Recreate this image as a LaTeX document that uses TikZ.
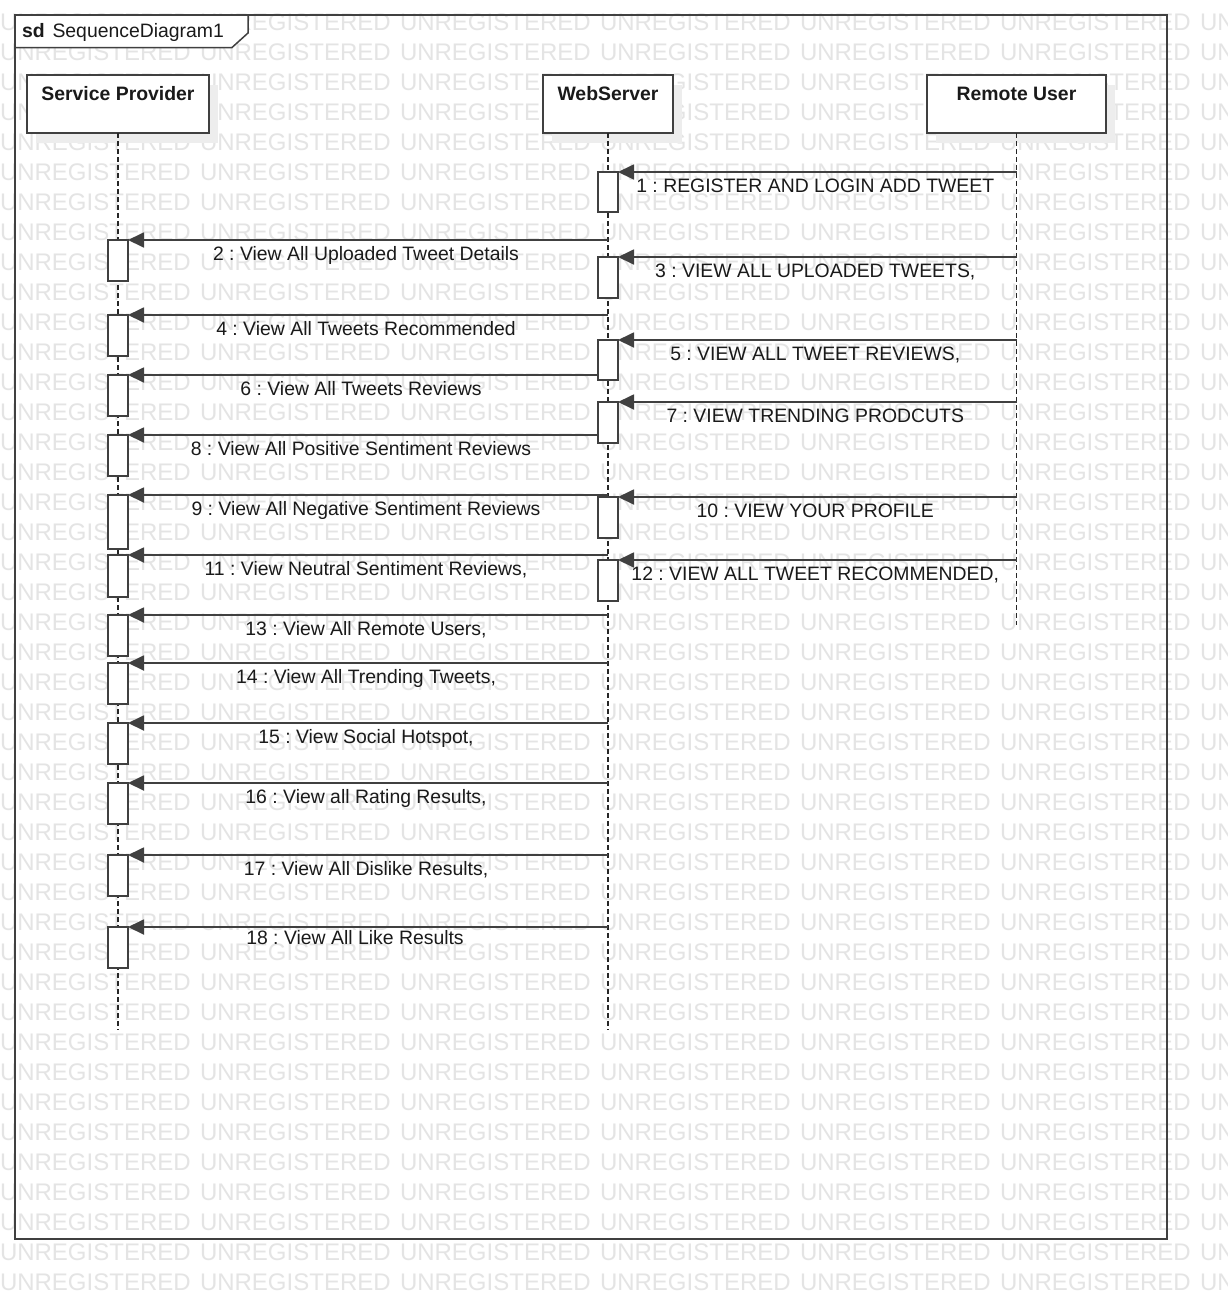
\documentclass[tikz,border=0pt]{standalone}
\usepackage{fontspec}
\setmainfont{Liberation Sans}
\usetikzlibrary{arrows.meta,shadows,calc}
\definecolor{ln}{RGB}{64,64,64}
\definecolor{wm}{RGB}{228,228,228}
\definecolor{txt}{RGB}{26,26,26}
\frenchspacing
\begin{document}
\begin{tikzpicture}[x=1pt,y=-1pt,
  every node/.style={inner sep=0pt, outer sep=0pt},
  wmark/.style={text=wm, font=\fontsize{24}{24}\selectfont, anchor=base west},
  headbox/.style={draw=ln, line width=1.8pt, fill=white, minimum height=58pt,
    drop shadow={shadow xshift=9pt, shadow yshift=-10pt, fill=black!7, opacity=1, draw=none}},
  headtxt/.style={text=txt, font=\fontsize{19.4}{20}\selectfont\bfseries, anchor=base},
  lifeline/.style={draw=black!85, line width=1.3pt, dash pattern=on 4.5pt off 3.5pt},
  act/.style={draw=ln, line width=1.8pt, fill=white, minimum width=20pt, anchor=north},
  msg/.style={draw=ln, line width=1.8pt, -{Triangle[length=16pt,width=15pt]}},
  mlbl/.style={text=txt, font=\fontsize{19.4}{20}\selectfont, anchor=base, yshift=-20pt, xshift=-2pt},
]
\useasboundingbox (0,0) rectangle (1227,1299);
\fill[white] (0,0) rectangle (1227,1299);
% watermark
\begin{scope}
\clip (0,0) rectangle (1227,1299);
\foreach \r in {0,...,42}{
  \foreach \c in {0,...,6}{
    \node[wmark] (wm-\r-\c) at (\c*200, 30+\r*30) {UNREGISTERED};
  }
}
\end{scope}
% frame
\node[draw=ln, line width=2.2pt, minimum width=1152pt, minimum height=1224pt, anchor=north west] (frame) at (15,15) {};
\draw[draw=ln, line width=1.5pt, fill=white] (frame.north west) -- (248,15) -- (248,33) -- (232,47.5) -- (15,47.5) -- cycle;
\node[text=txt, font=\fontsize{19.4}{20}\selectfont\bfseries, anchor=base west] (sdk) at (22,37) {sd};
\node[text=txt, font=\fontsize{19.4}{20}\selectfont, anchor=base west] (sdn) at (52.5,37) {SequenceDiagram1};
% lifeline heads
\node[headbox, minimum width=182pt] (sp) at (118,104) {};
\node[headtxt] (spt) at ([yshift=-25pt]sp.north) {Service Provider};
\node[headbox, minimum width=130pt] (ws) at (608,104) {};
\node[headtxt] (wst) at ([yshift=-25pt]ws.north) {WebServer};
\node[headbox, minimum width=179pt] (ru) at (1016.5,104) {};
\node[headtxt] (rut) at ([yshift=-25pt]ru.north) {Remote User};
% lifelines
\coordinate (spe) at (118,1030);
\coordinate (wse) at (608,1030);
\coordinate (rue) at (1016.5,625);
\draw[lifeline] (sp.south) -- (spe);
\draw[lifeline] (ws.south) -- (wse);
\draw[lifeline] (ru.south) -- (rue);
% activations WebServer
\node[act, minimum height=40pt] (a1) at (608,172) {};
\node[act, minimum height=41pt] (a3) at (608,257) {};
\node[act, minimum height=40pt] (a5) at (608,340) {};
\node[act, minimum height=41pt] (a7) at (608,402) {};
\node[act, minimum height=41pt] (a10) at (608,497) {};
\node[act, minimum height=41pt] (a12) at (608,560) {};
% activations Service Provider
\node[act, minimum height=41pt] (a2) at (118,240) {};
\node[act, minimum height=41pt] (a4) at (118,315) {};
\node[act, minimum height=41pt] (a6) at (118,375) {};
\node[act, minimum height=41pt] (a8) at (118,435) {};
\node[act, minimum height=54pt] (a9) at (118,495) {};
\node[act, minimum height=42pt] (a11) at (118,555) {};
\node[act, minimum height=41pt] (a13) at (118,615) {};
\node[act, minimum height=41pt] (a14) at (118,663) {};
\node[act, minimum height=41pt] (a15) at (118,723) {};
\node[act, minimum height=41pt] (a16) at (118,783) {};
\node[act, minimum height=41pt] (a17) at (118,855) {};
\node[act, minimum height=41pt] (a18) at (118,927) {};
% messages
\draw[msg] (ru.south |- a1.north) -- node[mlbl]{1 : REGISTER AND LOGIN ADD TWEET} (a1.north east);
\draw[msg] (ws.south |- a2.north) -- node[mlbl]{2 : View All Uploaded Tweet Details} (a2.north east);
\draw[msg] (ru.south |- a3.north) -- node[mlbl]{3 : VIEW ALL UPLOADED TWEETS,} (a3.north east);
\draw[msg] (ws.south |- a4.north) -- node[mlbl]{4 : View All Tweets Recommended} (a4.north east);
\draw[msg] (ru.south |- a5.north) -- node[mlbl]{5 : VIEW ALL TWEET REVIEWS,} (a5.north east);
\draw[msg] (a5.west |- a6.north) -- node[mlbl]{6 : View All Tweets Reviews} (a6.north east);
\draw[msg] (ru.south |- a7.north) -- node[mlbl]{7 : VIEW TRENDING PRODCUTS} (a7.north east);
\draw[msg] (a7.west |- a8.north) -- node[mlbl]{8 : View All Positive Sentiment Reviews} (a8.north east);
\draw[msg] (ws.south |- a9.north) -- node[mlbl]{9 : View All Negative Sentiment Reviews} (a9.north east);
\draw[msg] (ru.south |- a10.north) -- node[mlbl]{10 : VIEW YOUR PROFILE} (a10.north east);
\draw[msg] (ws.south |- a11.north) -- node[mlbl]{11 : View Neutral Sentiment Reviews,} (a11.north east);
\draw[msg] (ru.south |- a12.north) -- node[mlbl]{12 : VIEW ALL TWEET RECOMMENDED,} (a12.north east);
\draw[msg] (ws.south |- a13.north) -- node[mlbl]{13 : View All Remote Users,} (a13.north east);
\draw[msg] (ws.south |- a14.north) -- node[mlbl]{14 : View All Trending Tweets,} (a14.north east);
\draw[msg] (ws.south |- a15.north) -- node[mlbl]{15 : View Social Hotspot,} (a15.north east);
\draw[msg] (ws.south |- a16.north) -- node[mlbl]{16 : View all Rating Results,} (a16.north east);
\draw[msg] (ws.south |- a17.north) -- node[mlbl]{17 : View All Dislike Results,} (a17.north east);
\draw[msg] (ws.south |- a18.north) -- node[mlbl, yshift=3pt, xshift=-11pt]{18 : View All Like Results} (a18.north east);
\end{tikzpicture}
\end{document}
